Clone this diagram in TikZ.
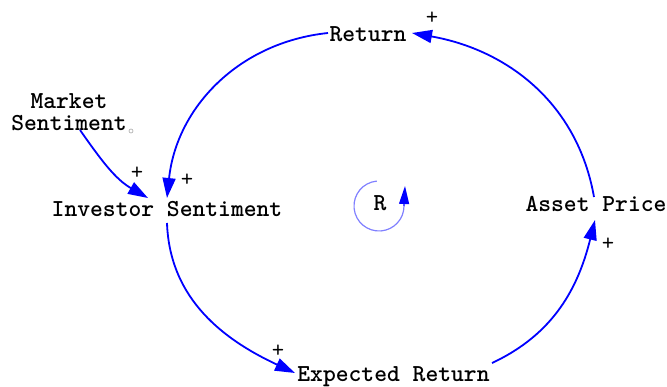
\documentclass[tikz,border=0pt]{standalone}
\usepackage{fontspec}
\usepackage{tikz}
\usetikzlibrary{arrows.meta, positioning}

\begin{document}
\begin{tikzpicture}[
    x=1pt, y=1pt,
    varnode/.style = {inner sep=0pt, font=\fontsize{24.4}{22}\selectfont\ttfamily\bfseries},
    polarity/.style = {inner sep=0pt, font=\fontsize{24}{24}\selectfont\ttfamily},
    link/.style = {draw=blue, line width=1.8pt, -{Triangle[length=20pt, width=13pt]}},
    loopmark/.style = {draw=blue!50, line width=1.2pt}
]
\useasboundingbox (0,0) rectangle (667,386);

\node [varnode, anchor=base] (ret) at (368, 344) {Return};
\node [varnode, align=center] (mkt) at (69, 274) {Market\\Sentiment};
\node [varnode, anchor=base] (inv) at (167, 169) {Investor Sentiment};
\node [varnode, anchor=base] (ast) at (596, 174) {Asset Price};
\node [varnode, anchor=base] (exp) at (393.5, 5) {Expected Return};
\node [varnode, anchor=base] (r) at (380, 175) {R};

\node [circle, draw=gray!70, line width=0.6pt, inner sep=0pt, minimum size=4pt] (dot) at (131, 255) {};

\draw[link] ([shift={(-40,9)}]ret.base) to[out=186, in=84] ([shift={(0,19)}]inv.base);
\draw[link] ([shift={(0,-6)}]inv.base) to[out=272, in=155] ([shift={(-98.5,8)}]exp.base);
\draw[link] ([shift={(98.5,18)}]exp.base) to[out=25, in=256] ([shift={(-1,-8)}]ast.base);
\draw[link] ([shift={(-2,15)}]ast.base) to[out=100, in=-10] ([shift={(44,9)}]ret.base);
\draw[link] ([shift={(11,-18)}]mkt.center) to[out=-55, in=150] ([shift={(-19,19)}]inv.base);

\node [polarity] (p1) at (432, 368) {+};
\node [polarity] (p2) at (187, 206) {+};
\node [polarity] (p3) at (137, 213) {+};
\node [polarity] (p4) at (278, 35) {+};
\node [polarity] (p5) at (608, 142) {+};

% loop marker
\draw[loopmark] ([shift={(-1,5)}]r.base) ++(95:25) arc[start angle=95, end angle=360, radius=25] coordinate (rend);
\draw[draw=blue, line width=1.2pt, -{Triangle[length=18pt, width=10pt]}] (rend) -- ++(1,20);

\end{tikzpicture}
\end{document}
